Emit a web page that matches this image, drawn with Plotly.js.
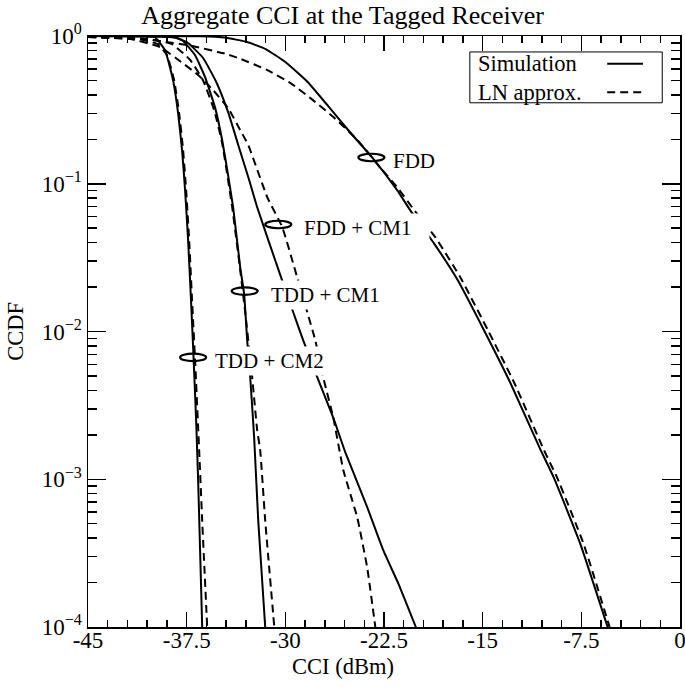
<!DOCTYPE html>
<html>
<head>
<meta charset="utf-8">
<script src="https://cdn.plot.ly/plotly-3.0.1.min.js"></script>
<style>
  html, body { margin: 0; padding: 0; background: white; }
  #chart { width: 685px; height: 687px; }
</style>
</head>
<body>
<div id="chart"></div>
<script>
// Werte (CCI in dBm, CCDF)
const fddSimX = [-45, -36.5, -34.6, -32.9, -31.5, -30.0, -28.3, -26.8, -25.1, -23.3, -21.5, -20.5, -18.7, -16.9, -14.9, -12.9, -10.6, -9.6, -7.6, -5.5];
const fddSimY = [1, 0.996, 0.977, 0.91, 0.816, 0.667, 0.488, 0.34, 0.224, 0.147, 0.0906, 0.066, 0.0395, 0.0223, 0.0102, 0.0045, 0.00158, 0.00103, 0.00037, 0.0001];
const fddLnX = [-45, -41, -37.2, -34.6, -33.4, -31.4, -29.6, -27.9, -26.35, -24.5, -22.8, -21.5, -20.3, -18.6, -16.7, -14.6, -12.6, -10.35, -9.35, -7.35, -5.35];
const fddLnY = [0.99, 0.96, 0.86, 0.76, 0.70, 0.59, 0.48, 0.368, 0.283, 0.197, 0.129, 0.0948, 0.068, 0.0435, 0.0233, 0.0102, 0.0045, 0.00158, 0.00103, 0.00037, 0.0001];

const fddCm1SimX = [-45, -40, -38.4, -37.4, -36.25, -35.26, -34.35, -33.58, -32.75, -32.14, -30.46, -29.4, -28.64, -27.57, -26.35, -25.44, -23.77, -22.55, -21.4, -20.08];
const fddCm1SimY = [1, 0.998, 0.977, 0.897, 0.71, 0.49, 0.305, 0.183, 0.106, 0.0694, 0.0252, 0.0135, 0.0087, 0.0049, 0.0026, 0.00152, 0.000645, 0.00033, 0.000196, 0.0001];
const fddCm1LnX = [-45, -41.8, -39.52, -37.92, -36.63, -35.56, -34.35, -33.43, -32.82, -31.38, -30.24, -29.1, -28.33, -27.72, -27.12, -26.35, -25.59, -24.53, -23.77, -23.16];
const fddCm1LnY = [0.985, 0.954, 0.842, 0.667, 0.545, 0.437, 0.325, 0.231, 0.183, 0.0813, 0.051, 0.0233, 0.0135, 0.0087, 0.0049, 0.0026, 0.00115, 0.00055, 0.00025, 0.0001];

const tddCm1SimX = [-45, -38.61, -37.85, -36.86, -36.1, -35.33, -34.8, -34.35, -33.97, -33.43, -33.13, -32.9, -32.67, -32.37, -32.06, -31.53];
const tddCm1SimY = [1, 0.985, 0.94, 0.74, 0.527, 0.325, 0.197, 0.114, 0.0694, 0.0272, 0.0179, 0.0087, 0.0049, 0.00192, 0.000525, 0.0001];
const tddCm1LnX = [-45, -40.28, -38.61, -37.24, -36.25, -35.41, -34.8, -34.04, -33.43, -32.98, -32.52, -32.14, -31.91, -31.53, -30.84];
const tddCm1LnY = [0.985, 0.95, 0.88, 0.69, 0.50, 0.315, 0.188, 0.0694, 0.026, 0.0119, 0.0049, 0.00215, 0.00157, 0.000525, 0.0001];

const tddCm2SimX = [-45, -40.7, -39.9, -39.14, -38.53, -38.15, -37.85, -37.62, -37.39, -37.17, -37.0, -36.78, -36.63, -36.48, -36.32];
const tddCm2SimY = [1, 0.995, 0.98, 0.80, 0.50, 0.30, 0.169, 0.0906, 0.0415, 0.0163, 0.0075, 0.0025, 0.001, 0.00033, 0.0001];
const tddCm2LnX = [-45, -41.0, -39.67, -38.99, -38.45, -38.07, -37.77, -37.54, -37.31, -37.09, -36.86, -36.55, -36.32, -35.94];
const tddCm2LnY = [0.985, 0.947, 0.88, 0.74, 0.50, 0.30, 0.169, 0.0906, 0.0415, 0.0163, 0.00638, 0.00157, 0.000525, 0.0001];

// Ellipsen-Markierungen + Beschriftung
const markNames = ["FDD", "FDD + CM1", "TDD + CM1", "TDD + CM2"];
const markX = [-23.46, -30.54, -33.09, -37.01];
const markY = [0.142, 0.050, 0.0177, 0.0063];

const xTicks = [-45, -37.5, -30, -22.5, -15, -7.5, 0];
const xTickText = ["-45", "-37.5", "-30", "-22.5", "-15", "-7.5", "0"];
const yTicks = [1e-4, 1e-3, 1e-2, 1e-1, 1];
const yTickText = ["10<sup>\u22124</sup>", "10<sup>\u22123</sup>", "10<sup>\u22122</sup>", "10<sup>\u22121</sup>", "10<sup>0</sup>"];

const FONT = "Liberation Serif, Times New Roman, serif";
const DASH = "8px,5px";

const curve = (x, y, dashed) => ({
  type: "scatter",
  mode: "lines",
  x: x,
  y: y,
  line: { color: "black", width: 2, dash: dashed ? DASH : "solid", shape: "spline", smoothing: 0.4 },
  hoverinfo: "skip",
  showlegend: false,
});

const traces = [
  curve(fddSimX, fddSimY, false),
  curve(fddLnX, fddLnY, true),
  curve(fddCm1SimX, fddCm1SimY, false),
  curve(fddCm1LnX, fddCm1LnY, true),
  curve(tddCm1SimX, tddCm1SimY, false),
  curve(tddCm1LnX, tddCm1LnY, true),
  curve(tddCm2SimX, tddCm2SimY, false),
  curve(tddCm2LnX, tddCm2LnY, true),
];

// Beschriftungen rechts neben den Ellipsen (weisser Hintergrund verdeckt die Kurven)
const labelOffsetDb = [1.45, 1.75, 1.75, 1.45];
const labelSuffix = ["", "&nbsp;&nbsp;&nbsp;", "", ""];
const annotations = markNames.map((name, i) => ({
  x: markX[i] + labelOffsetDb[i],
  y: Math.log10(markY[i]),
  xref: "x",
  yref: "y",
  text: name + labelSuffix[i],
  showarrow: false,
  xanchor: "left",
  yanchor: "middle",
  bgcolor: "white",
  borderpad: 2,
  font: { family: FONT, size: 21, color: "black" },
}));

// Legende von Hand (Linienmuster rechts vom Text)
annotations.push(
  { x: 0.655, y: 0.953, xref: "paper", yref: "paper", text: "Simulation", showarrow: false,
    xanchor: "left", yanchor: "middle", font: { family: FONT, size: 22.5, color: "black" } },
  { x: 0.655, y: 0.905, xref: "paper", yref: "paper", text: "LN approx.", showarrow: false,
    xanchor: "left", yanchor: "middle", font: { family: FONT, size: 22.5, color: "black" } },
  // Achsentitel
  { x: 0.431, y: -0.066, xref: "paper", yref: "paper", text: "CCI (dBm)", showarrow: false,
    xanchor: "center", yanchor: "middle", font: { family: FONT, size: 22.5, color: "black" } },
  { x: -0.123, y: 0.5, xref: "paper", yref: "paper", text: "CCDF", showarrow: false, textangle: -90,
    xanchor: "center", yanchor: "middle", font: { family: FONT, size: 22.5, color: "black" } }
);

const shapes = markNames.map((name, i) => ({
  type: "circle",
  xref: "x",
  yref: "y",
  xsizemode: "pixel",
  ysizemode: "pixel",
  xanchor: markX[i],
  yanchor: markY[i],
  x0: -13, x1: 13, y0: -7.5, y1: 7.5,
  line: { color: "black", width: 2.2 },
}));

shapes.push(
  { type: "rect", xref: "paper", yref: "paper", x0: 0.645, x1: 0.970, y0: 0.887, y1: 0.973,
    line: { color: "black", width: 1 }, fillcolor: "white", layer: "below" },
  { type: "line", xref: "paper", yref: "paper", x0: 0.877, x1: 0.9375, y0: 0.953, y1: 0.953,
    line: { color: "black", width: 2 } },
  { type: "line", xref: "paper", yref: "paper", x0: 0.877, x1: 0.9375, y0: 0.905, y1: 0.905,
    line: { color: "black", width: 2, dash: DASH } }
);

const layout = {
  width: 685,
  height: 687,
  paper_bgcolor: "white",
  plot_bgcolor: "white",
  showlegend: false,
  margin: { l: 88, r: 5, t: 36, b: 60 },
  font: { family: FONT, size: 22, color: "black" },
  title: {
    text: "Aggregate CCI at the Tagged Receiver",
    font: { family: FONT, size: 26, color: "black" },
    xref: "container", x: 0.5, xanchor: "center",
    yref: "container", y: 0.979, yanchor: "middle",
  },
  xaxis: {
    range: [-45, 0],
    tickmode: "array",
    tickvals: xTicks,
    ticktext: xTickText,
    ticks: "inside",
    ticklen: 15,
    tickwidth: 1.5,
    tickcolor: "black",
    ticklabelstandoff: -8,
    ticklabeloverflow: "allow",
    minor: { ticks: "inside", ticklen: 7, tickwidth: 1.5, tickcolor: "black", tick0: -45, dtick: 1.5 },
    showline: true,
    linecolor: "black",
    linewidth: 1.5,
    mirror: "ticks",
    showgrid: false,
    zeroline: false,
    tickfont: { family: FONT, size: 23, color: "black" },
  },
  yaxis: {
    type: "log",
    range: [-4, 0],
    tickmode: "array",
    tickvals: yTicks,
    ticktext: yTickText,
    ticks: "inside",
    ticklen: 18,
    tickwidth: 1.5,
    tickcolor: "black",
    minor: { ticks: "inside", ticklen: 9, tickwidth: 1.5, tickcolor: "black", dtick: "D1" },
    showline: true,
    linecolor: "black",
    linewidth: 1.5,
    mirror: "ticks",
    showgrid: false,
    zeroline: false,
    tickfont: { family: FONT, size: 23, color: "black" },
  },
  annotations: annotations,
  shapes: shapes,
};

Plotly.newPlot("chart", traces, layout, { staticPlot: true, displayModeBar: false });
</script>
</body>
</html>
